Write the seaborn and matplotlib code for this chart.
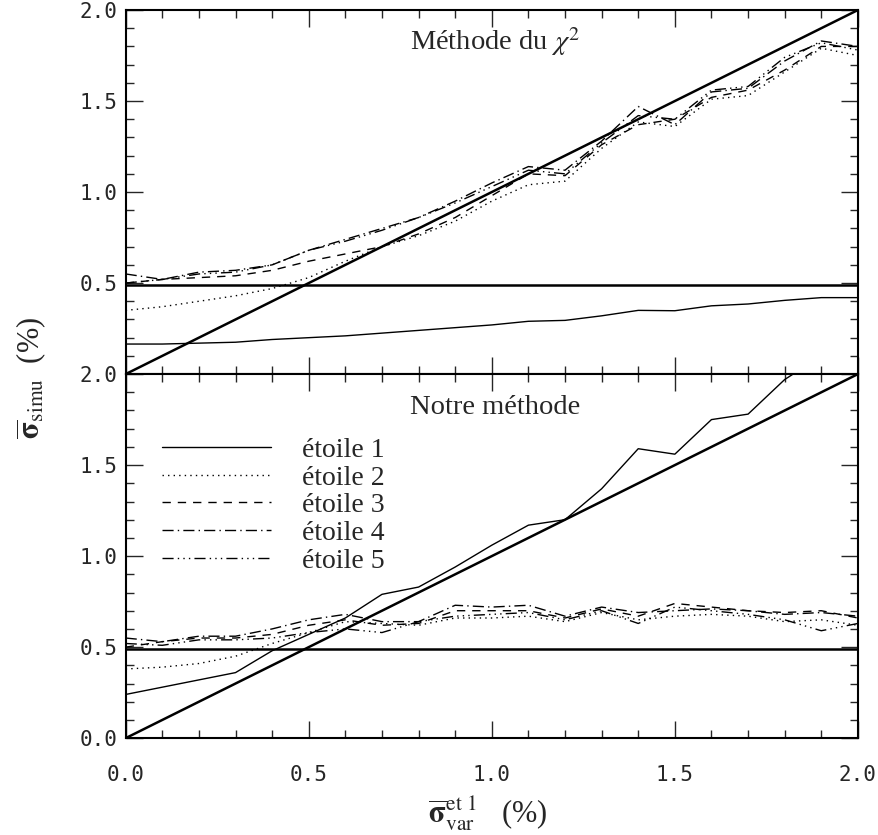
import numpy as np
import pandas as pd
import matplotlib
matplotlib.use('Agg')
import matplotlib.pyplot as plt
import seaborn as sns
from matplotlib.ticker import MultipleLocator

# abscisse commune (sigma_var de l'etoile 1, en %)
x_vals = [0.0, 0.1, 0.2, 0.3, 0.4, 0.5, 0.6, 0.7, 0.8, 0.9, 1.0,
          1.1, 1.2, 1.3, 1.4, 1.5, 1.6, 1.7, 1.8, 1.9, 2.0]

# Methode du chi2 (panneau du haut)
chi2_etoile1 = [0.165, 0.165, 0.17, 0.175, 0.19, 0.20, 0.21, 0.225, 0.24, 0.255, 0.27,
                0.29, 0.295, 0.32, 0.35, 0.348, 0.375, 0.385, 0.405, 0.42, 0.42]
chi2_etoile2 = [0.35, 0.37, 0.40, 0.43, 0.47, 0.53, 0.62, 0.70, 0.76, 0.84, 0.95,
                1.04, 1.06, 1.24, 1.385, 1.36, 1.51, 1.53, 1.66, 1.79, 1.75]
chi2_etoile3 = [0.50, 0.52, 0.53, 0.54, 0.57, 0.62, 0.66, 0.70, 0.77, 0.86, 0.98,
                1.10, 1.09, 1.26, 1.37, 1.40, 1.52, 1.56, 1.67, 1.80, 1.80]
chi2_etoile4 = [0.55, 0.52, 0.56, 0.57, 0.60, 0.68, 0.74, 0.80, 0.86, 0.95, 1.05,
                1.14, 1.12, 1.28, 1.47, 1.37, 1.55, 1.57, 1.72, 1.83, 1.80]
chi2_etoile5 = [0.50, 0.52, 0.55, 0.56, 0.60, 0.68, 0.73, 0.79, 0.86, 0.94, 1.03,
                1.12, 1.10, 1.27, 1.42, 1.40, 1.56, 1.58, 1.74, 1.82, 1.78]

# Notre methode (panneau du bas)
notre_etoile1 = [0.24, 0.28, 0.32, 0.36, 0.48, 0.57, 0.66, 0.79, 0.83, 0.94, 1.06,
                 1.17, 1.20, 1.37, 1.59, 1.56, 1.75, 1.78, 1.97, 2.10, 2.20]
notre_etoile2 = [0.38, 0.39, 0.41, 0.45, 0.52, 0.58, 0.64, 0.63, 0.62, 0.66, 0.66,
                 0.67, 0.64, 0.69, 0.65, 0.67, 0.68, 0.67, 0.64, 0.65, 0.62]
notre_etoile3 = [0.50, 0.53, 0.55, 0.55, 0.57, 0.62, 0.65, 0.62, 0.63, 0.70, 0.70,
                 0.70, 0.66, 0.71, 0.67, 0.74, 0.72, 0.70, 0.69, 0.70, 0.66]
notre_etoile4 = [0.55, 0.53, 0.56, 0.56, 0.60, 0.65, 0.68, 0.64, 0.64, 0.73, 0.72,
                 0.73, 0.67, 0.72, 0.69, 0.70, 0.71, 0.70, 0.68, 0.69, 0.67]
notre_etoile5 = [0.52, 0.51, 0.54, 0.54, 0.55, 0.58, 0.60, 0.58, 0.64, 0.67, 0.68,
                 0.69, 0.65, 0.70, 0.63, 0.72, 0.70, 0.68, 0.65, 0.59, 0.63]

# droites de reference
diag_x = [0.0, 2.0]
diag_y = [0.0, 2.0]
niveau_bruit = 0.49

labels = ['étoile 1', 'étoile 2', 'étoile 3', 'étoile 4', 'étoile 5']
styles = ['-', (0, (1, 3)), (0, (6, 5)), (0, (8, 3, 1, 3)), (0, (8, 3, 1, 3, 1, 3, 1, 3))]

panneaux = [
    ('Méthode du $\\chi^2$', [chi2_etoile1, chi2_etoile2, chi2_etoile3, chi2_etoile4, chi2_etoile5], 0.913),
    ('Notre méthode', [notre_etoile1, notre_etoile2, notre_etoile3, notre_etoile4, notre_etoile5], 0.909),
]

sns.set_style('ticks')
plt.rcParams['font.family'] = ['Liberation Serif', 'DejaVu Serif']
plt.rcParams['mathtext.fontset'] = 'stix'

fig = plt.figure(figsize=(8.79, 8.35), dpi=100)
gs = fig.add_gridspec(2, 1, left=0.143, right=0.976, top=0.988, bottom=0.116, hspace=0)
axes = [fig.add_subplot(gs[0]), fig.add_subplot(gs[1])]

for i, (ax, (titre, series, ty)) in enumerate(zip(axes, panneaux)):
    for serie, lab, ls in zip(series, labels, styles):
        df = pd.DataFrame({'x': x_vals, 'y': serie})
        sns.lineplot(data=df, x='x', y='y', ax=ax, color='black', linewidth=1.0,
                     linestyle=ls, label=lab if i == 1 else None)
    sns.lineplot(x=diag_x, y=diag_y, ax=ax, color='black', linewidth=1.8)
    ax.axhline(niveau_bruit, color='black', linewidth=1.8)

    ax.set_xlim(0, 2)
    ax.set_ylim(0, 2)
    ax.xaxis.set_major_locator(MultipleLocator(0.5))
    ax.xaxis.set_minor_locator(MultipleLocator(0.1))
    ax.yaxis.set_major_locator(MultipleLocator(0.5))
    ax.yaxis.set_minor_locator(MultipleLocator(0.1))
    ax.tick_params(which='both', direction='in', top=True, right=True, width=1.0)
    ax.tick_params(which='major', length=12)
    ax.tick_params(which='minor', length=6)
    ax.tick_params(axis='y', pad=6)
    ax.tick_params(axis='x', pad=19)
    for sp in ax.spines.values():
        sp.set_linewidth(1.5)
        sp.set_color('black')
    ax.set_xlabel('')
    ax.set_ylabel('')
    for t in ax.get_xticklabels() + ax.get_yticklabels():
        t.set_fontfamily('DejaVu Sans Mono')
        t.set_fontsize(15)
    ax.text(0.505, ty, titre, transform=ax.transAxes, ha='center', va='center', fontsize=20.5)

axes[0].tick_params(axis='x', labelbottom=False)
axes[0].set_yticks([0.5, 1.0, 1.5, 2.0])
axes[0].set_yticklabels(['0.5', '1.0', '1.5', '2.0'], fontfamily='DejaVu Sans Mono', fontsize=15)

leg = axes[1].legend(loc='upper left', bbox_to_anchor=(0.049, 0.826), frameon=False,
                     fontsize=20, handlelength=3.95, handletextpad=1.1,
                     labelspacing=0.08, borderpad=0, borderaxespad=0)

fig.text(0.035, 0.548, r'$\overline{\mathbf{\sigma}}_{\rm simu}$  (%)', rotation=90,
         ha='center', va='center', fontsize=22)
fig.text(0.555, 0.026, r'$\overline{\mathbf{\sigma}}_{\rm var}^{\rm et\ 1}$   (%)',
         ha='center', va='center', fontsize=22)

fig.savefig('out.png', dpi=100)
